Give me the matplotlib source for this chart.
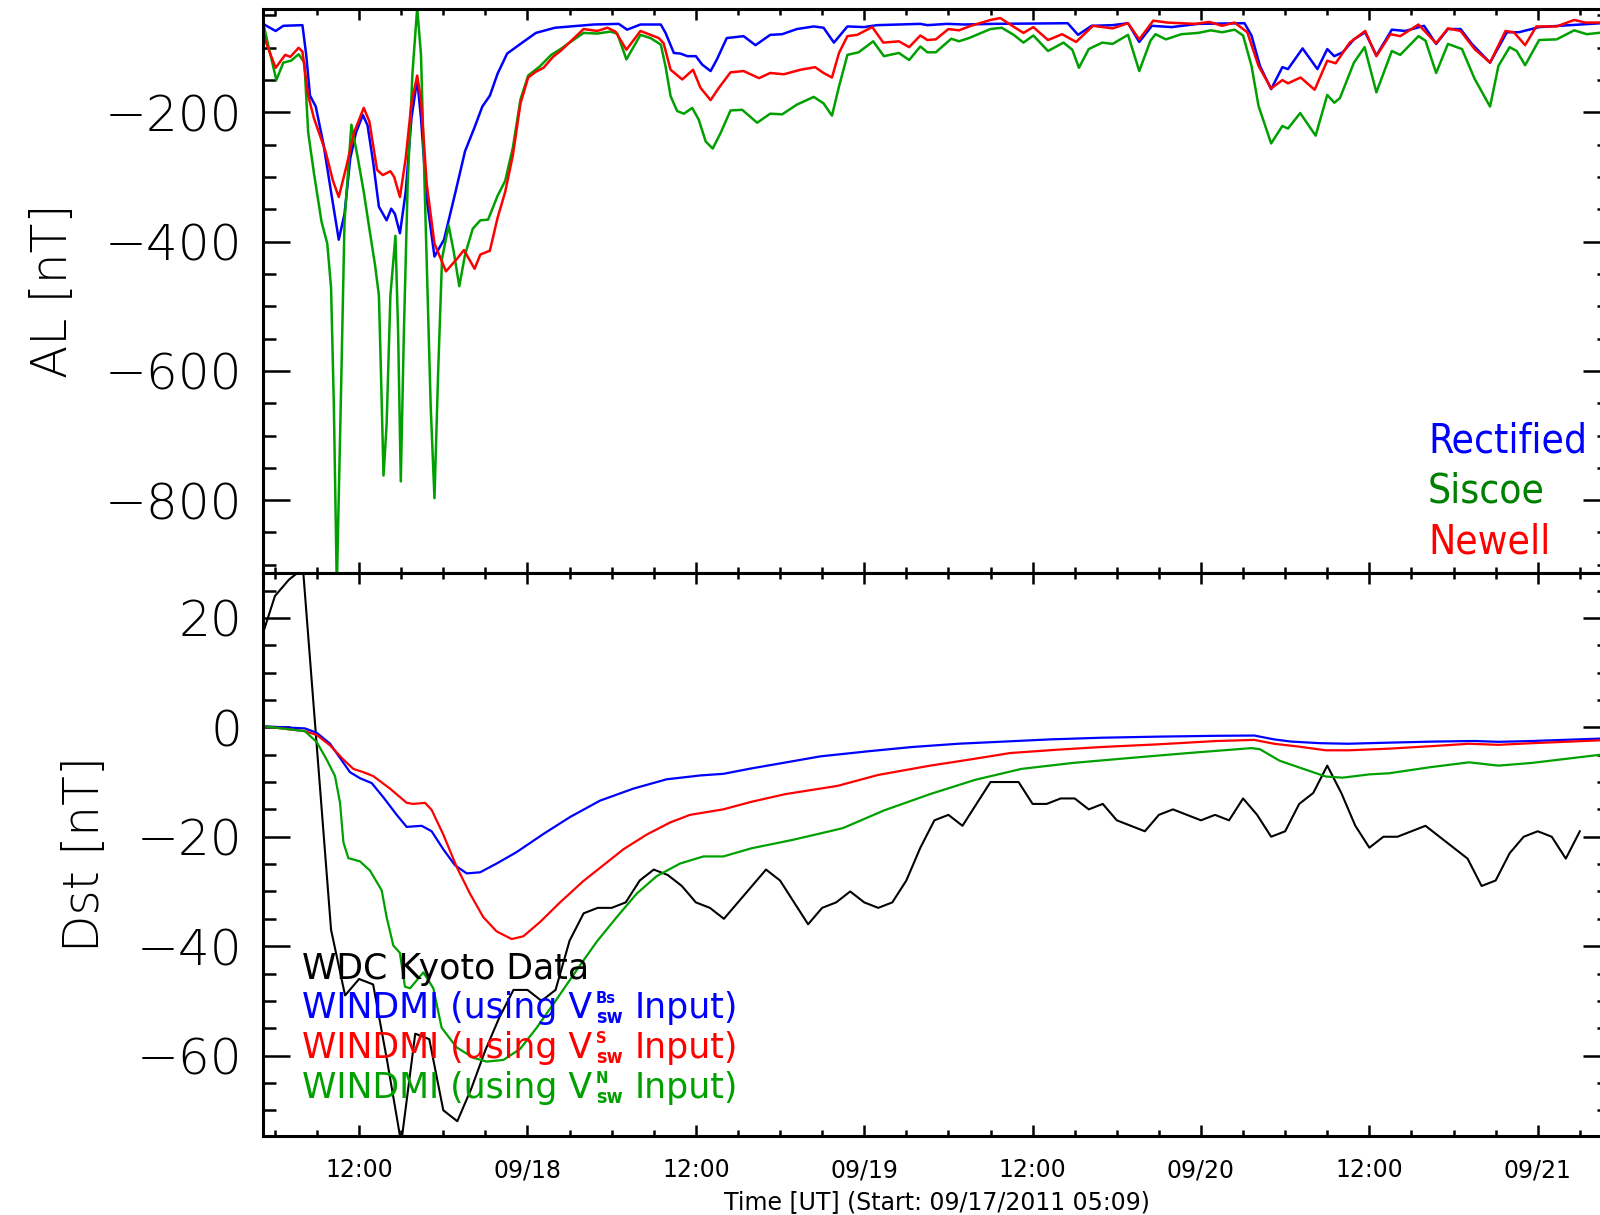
import numpy as np
import matplotlib
matplotlib.use('Agg')
import matplotlib.pyplot as plt
from matplotlib.ticker import MultipleLocator, FixedLocator

plt.rcParams['font.family'] = ['DejaVu Sans']

# time axis: hours since 09/17/2011 00:00 UT, run starts at 05:09
t_start = 5.15
t_end = t_start + 96.0
tick_hours = [12, 24, 36, 48, 60, 72, 84, 96]
tick_labels = ['12:00', '09/18', '12:00', '09/19', '12:00', '09/20', '12:00', '09/21']

#------------------------------ AL index (model) ------------------------------#
al_rect_t = [5.15, 6.05, 6.6, 7.96, 8.23, 8.5, 8.91, 9.46, 10.0, 10.55, 10.96, 11.37, 11.78,
             12.27, 12.6, 13.0, 13.41, 13.96, 14.29, 14.55, 14.91, 15.32, 15.73, 16.14, 16.41,
             16.82, 17.37, 18.05, 18.87, 19.55, 20.23, 20.78, 21.32, 21.87, 22.55, 23.5, 24.6,
             25.96, 28.73, 30.5, 31.1, 32.05, 33.5, 33.84, 34.43, 34.9, 35.4, 36.0, 36.45, 37.05,
             37.5, 38.2, 39.4, 40.25, 41.3, 42.15, 43.2, 44.4, 45.1, 45.84, 46.8, 48.0, 48.9,
             52.0, 52.5, 53.9, 55.1, 57.25, 62.5, 63.24, 64.2, 65.7, 66.8, 67.6, 68.5, 69.9,
             71.8, 75.1, 75.6, 76.2, 77.0, 77.8, 78.2, 79.24, 80.3, 81.0, 81.5, 82.1, 82.9,
             83.7, 84.5, 85.6, 86.55, 87.9, 88.76, 89.6, 90.5, 91.3, 92.6, 93.8, 94.65, 96.1,
             100.5, 101.15]
al_rect = [-63, -74, -66, -65, -111, -174, -191, -249, -323, -397, -357, -271, -231,
           -204, -220, -277, -346, -367, -349, -357, -387, -323, -209, -149, -209,
           -334, -423, -397, -323, -260, -223, -191, -174, -140, -109, -94, -77,
           -69, -64, -63, -72, -64, -64, -77, -108, -109, -113, -113, -126, -136,
           -118, -85, -82, -96, -80, -79, -71, -67, -69, -92, -67, -68, -65,
           -63, -65, -63, -64, -63, -62, -80, -66, -65, -62, -91, -66, -68,
           -63, -62, -81, -128, -164, -130, -133, -101, -133, -102, -113, -107, -87,
           -76, -112, -72, -74, -66, -94, -71, -71, -94, -123, -76, -76, -68,
           -62, -62]

al_newell_t = [5.15, 5.5, 6.05, 6.73, 7.1, 7.69, 7.96, 8.37, 8.78, 9.6, 10.14, 10.55, 11.1,
               11.64, 12.33, 12.73, 13.28, 13.69, 14.23, 14.5, 14.91, 15.32, 15.73, 16.14,
               16.41, 16.82, 17.37, 18.19, 19.0, 19.47, 20.23, 20.64, 21.32, 21.87, 22.41,
               22.96, 23.5, 24.05, 24.6, 25.14, 25.82, 26.35, 28.0, 28.97, 29.7, 30.27, 31.05,
               32.05, 33.36, 33.7, 34.2, 35.03, 35.8, 36.33, 37.05, 37.64, 38.47, 39.4, 40.5,
               41.3, 42.27, 43.46, 44.5, 45.1, 45.7, 46.2, 46.8, 47.5, 48.57, 49.36, 50.47,
               51.2, 52.0, 52.5, 53.1, 54.0, 54.75, 55.6, 57.0, 57.7, 58.4, 59.35, 60.05,
               61.1, 62.1, 63.1, 64.3, 65.7, 66.8, 67.6, 68.6, 69.6, 71.6, 72.6, 73.5, 74.4,
               75.3, 76.1, 77.0, 77.8, 78.2, 79.1, 80.1, 81.0, 81.6, 82.6, 83.7, 84.5, 85.5,
               86.2, 87.5, 88.76, 89.6, 90.5, 91.5, 92.6, 93.7, 94.3, 95.1, 95.9, 97.35, 98.6,
               99.4, 101.15]
al_newell = [-77, -100, -131, -111, -114, -100, -106, -174, -209, -260, -306, -331, -283,
             -231, -193, -214, -289, -297, -291, -300, -331, -271, -186, -143,
             -180, -311, -403, -446, -426, -413, -442, -420, -414, -363, -323,
             -266, -186, -146, -137, -131, -114, -105, -71, -74, -69, -75, -103,
             -74, -85, -93, -134, -149, -134, -162, -181, -162, -138, -136, -147,
             -139, -141, -134, -130, -139, -146, -108, -82, -80, -68, -92, -90,
             -99, -81, -88, -87, -71, -73, -66, -57, -54, -64, -77, -68,
             -88, -79, -91, -66, -70, -62, -87, -58, -61, -63, -60, -66, -61,
             -76, -128, -163, -150, -155, -146, -165, -120, -124, -92, -74, -113, -79,
             -82, -64, -93, -70, -74, -102, -123, -74, -76, -96, -67, -67, -57,
             -61, -61]

al_siscoe_t = [5.15, 5.5, 6.1, 6.6, 7.15, 7.69, 8.1, 8.37, 8.78, 9.32, 9.73, 10.0, 10.2, 10.41,
               10.69, 10.96, 11.45, 11.91, 12.33, 12.73, 13.14, 13.41, 13.55, 13.74, 13.96,
               14.23, 14.59, 14.78, 14.97, 15.19, 15.46, 15.8, 16.14, 16.41, 16.74, 17.1, 17.37,
               17.64, 17.91, 18.38, 18.73, 19.14, 19.55, 20.1, 20.64, 21.19, 21.87, 22.41,
               22.96, 23.5, 24.05, 24.87, 25.69, 26.35, 28.0, 28.97, 29.9, 30.4, 31.05, 32.05,
               32.77, 33.5, 33.84, 34.2, 34.67, 35.15, 35.74, 36.2, 36.7, 37.2, 37.76, 38.47,
               39.3, 40.37, 41.3, 42.15, 43.2, 44.4, 45.1, 45.7, 46.2, 46.8, 47.6, 48.64, 49.4,
               50.47, 51.2, 52.0, 52.5, 53.1, 54.2, 54.75, 55.46, 57.0, 57.8, 58.65, 59.35,
               60.05, 61.1, 62.2, 62.83, 63.3, 64.0, 64.96, 65.7, 66.8, 67.6, 68.4, 68.76,
               69.5, 70.6, 71.8, 72.7, 73.5, 74.4, 75.0, 75.6, 76.1, 77.0, 77.8, 78.2, 79.07,
               80.17, 81.0, 81.5, 81.9, 82.9, 83.66, 84.5, 85.6, 86.2, 87.5, 88.0, 88.76, 89.6,
               90.6, 91.5, 92.6, 93.2, 94.0, 94.5, 95.1, 96.1, 97.35, 98.6, 99.5, 101.15]
al_siscoe = [-61, -94, -150, -123, -120, -110, -123, -231, -294, -369, -403, -471, -654, -935,
             -654, -369, -219, -271, -323, -380, -437, -483, -597, -762, -683,
             -483, -391, -540, -771, -540, -311, -140, -38, -111, -369, -654, -797,
             -597, -426, -375, -414, -469, -420, -380, -367, -366, -329, -306,
             -254, -180, -143, -129, -111, -102, -77, -78, -75, -78, -118, -80,
             -85, -95, -129, -175, -198, -202, -193, -211, -245, -256, -232, -197,
             -196, -216, -202, -203, -188, -176, -186, -205, -160, -111, -107, -90, -113,
             -108, -119, -98, -107, -107, -86, -90, -85, -71, -69, -80, -92,
             -81, -105, -92, -103, -131, -102, -92, -94, -80, -136, -89, -79,
             -87, -79, -77, -73, -76, -72, -81, -128, -190, -248, -221, -225, -201,
             -236, -173, -185, -178, -123, -99, -169, -105, -111, -82, -89, -139, -94,
             -102, -148, -191, -128, -99, -105, -127, -88, -87, -73, -79, -75]

#------------------------------ Dst index ------------------------------#
# WDC Kyoto hourly values
dst_obs_t = list(range(5, 100))
dst_obs = [16, 24, 27, 29, -4, -37, -49, -46, -47, -61, -76, -56, -57, -70, -72, -66,
           -59, -53, -48, -48, -50, -48, -39, -34, -33, -33, -32, -28, -26, -27, -29, -32,
           -33, -35, -32, -29, -26, -28, -32, -36, -33, -32, -30, -32, -33, -32, -28, -22,
           -17, -16, -18, -14, -10, -10, -10, -14, -14, -13, -13, -15, -14, -17, -18, -19,
           -16, -15, -16, -17, -16, -17, -13, -16, -20, -19, -14, -12, -7, -12, -18, -22,
           -20, -20, -19, -18, -20, -22, -24, -29, -28, -23, -20, -19, -20, -24, -19]

dst_bs_t = [5.15, 7.07, 8.14, 8.98, 9.93, 10.64, 11.35, 12.06, 12.9, 13.73, 14.68, 15.39,
            16.46, 17.17, 18.0, 18.83, 19.67, 20.62, 21.8, 23.23, 25.13, 27.03, 29.17, 31.55,
            33.92, 36.3, 37.96, 39.98, 42.0, 44.9, 48.2, 51.4, 54.7, 58.0, 61.3, 64.9, 69.0,
            73.1, 75.8, 77.2, 78.4, 80.5, 82.5, 85.4, 88.7, 91.5, 93.2, 95.6, 101.15]
dst_bs = [0.2, -0.06, -0.2, -1.0, -3.0, -5.6, -8.2, -9.3, -10.2, -12.8, -16.0, -18.2,
          -18.0, -19.0, -22.3, -25.2, -26.7, -26.5, -24.9, -22.8, -19.5, -16.4, -13.4, -11.2,
          -9.5, -8.8, -8.5, -7.5, -6.6, -5.3, -4.4, -3.6, -3.0, -2.6, -2.2, -1.9, -1.7,
          -1.55, -1.5, -2.2, -2.6, -2.9, -3.0, -2.8, -2.6, -2.5, -2.65, -2.5, -2.0]

dst_s_t = [5.15, 8.14, 8.98, 9.93, 10.88, 11.59, 12.3, 13.0, 14.2, 15.39, 15.86, 16.7, 17.17,
           18.0, 18.95, 19.9, 20.85, 21.8, 22.87, 23.7, 24.89, 26.32, 27.98, 29.41, 30.83,
           32.5, 34.16, 35.58, 37.94, 39.98, 42.4, 46.1, 49.0, 52.7, 55.5, 58.4, 61.7, 64.9,
           69.0, 73.1, 75.8, 77.2, 78.9, 80.9, 82.5, 85.4, 88.7, 91.1, 93.2, 95.6, 101.15]
dst_s = [0.2, -0.7, -1.4, -3.3, -5.9, -7.6, -8.2, -8.9, -11.2, -13.8, -14.0, -13.8, -15.1,
         -19.6, -25.5, -30.4, -34.7, -37.3, -38.7, -38.2, -35.6, -32.0, -28.1, -25.2, -22.3,
         -19.6, -17.4, -16.0, -15.0, -13.6, -12.2, -10.7, -8.7, -7.0, -5.9, -4.7, -4.1, -3.6,
         -3.1, -2.5, -2.3, -3.0, -3.5, -4.2, -4.2, -3.9, -3.4, -3.0, -3.2, -2.9, -2.3]

dst_n_t = [5.15, 8.14, 8.98, 9.69, 10.28, 10.64, 10.88, 11.23, 12.06, 12.78, 13.61, 13.96,
           14.44, 14.9, 15.27, 15.63, 16.58, 17.29, 17.88, 18.95, 20.14, 21.09, 22.28, 23.47,
           24.66, 26.08, 27.5, 28.93, 30.36, 31.78, 33.21, 34.87, 36.54, 37.96, 39.98, 42.85,
           45.7, 46.5, 49.4, 52.7, 55.9, 59.2, 62.9, 67.4, 71.1, 75.6, 76.2, 77.6, 79.3, 80.9,
           82.1, 84.0, 85.4, 88.3, 91.1, 93.2, 95.6, 101.15]
dst_n = [0.2, -0.7, -2.7, -5.9, -8.9, -13.8, -21.0, -23.9, -24.5, -26.2, -29.8, -34.7,
         -39.9, -41.2, -47.4, -47.7, -44.8, -47.7, -54.9, -58.5, -60.4, -61.1, -60.8, -58.8,
         -54.9, -49.7, -44.4, -39.2, -34.7, -30.4, -27.2, -24.9, -23.6, -23.6, -22.1, -20.6,
         -18.9, -18.4, -15.2, -12.2, -9.6, -7.6, -6.5, -5.5, -4.7, -3.8, -4.0, -6.1, -7.6, -9.0,
         -9.2, -8.6, -8.4, -7.3, -6.4, -7.0, -6.5, -4.8]

input_names = ['Bs', 'S', 'N']

blue = '#0000ff'
red = '#ff0000'
green = '#00a000'
dark_green = '#008000'
thin_font = dict(family=['DejaVu Sans'], weight='light')

fig = plt.figure(figsize=(16, 12.15), dpi=100)
left = 263 / 1600
width = 1347 / 1600
ax1 = fig.add_axes([left, 1 - 572.5 / 1215, width, 563.5 / 1215])
ax2 = fig.add_axes([left, 1 - 1136 / 1215, width, 563.5 / 1215], sharex=ax1)

#---------------------------------- AL panel ----------------------------------#
ax1.plot(al_rect_t, al_rect, color=blue, lw=1.8)
ax1.plot(al_siscoe_t, al_siscoe, color=green, lw=1.8)
ax1.plot(al_newell_t, al_newell, color=red, lw=1.8)
ax1.set_ylim(-912, -40)
ax1.yaxis.set_major_locator(FixedLocator([-200, -400, -600, -800]))
ax1.yaxis.set_minor_locator(MultipleLocator(50))
ax1.set_ylabel('AL [nT]', fontsize=35, labelpad=20, **thin_font)

for name, col, yy in zip(['Rectified', 'Siscoe', 'Newell'], [blue, dark_green, red],
                         [0.2121, 0.1251, 0.0346]):
    ax1.text(0.8649, yy, name, color=col, fontsize=29.2, transform=ax1.transAxes,
             ha='left', va='baseline', fontstretch='condensed')

#---------------------------------- Dst panel ----------------------------------#
ax2.plot(dst_obs_t, dst_obs, color='black', lw=1.5)
ax2.plot(dst_bs_t, dst_bs, color=blue, lw=1.6)
ax2.plot(dst_s_t, dst_s, color=red, lw=1.6)
ax2.plot(dst_n_t, dst_n, color=green, lw=1.6)
ax2.set_ylim(-74.7, 28.3)
ax2.yaxis.set_major_locator(FixedLocator([20, 0, -20, -40, -60]))
ax2.yaxis.set_minor_locator(MultipleLocator(5))
ax2.set_ylabel('Dst [nT]', fontsize=35, labelpad=20, **thin_font)

# legend text, V with stacked super/subscript built from separate pieces
leg_x = 0.029
leg_size = 25
ax2.text(leg_x, 0.2786, 'WDC Kyoto Data', color='black', fontsize=leg_size,
         transform=ax2.transAxes, ha='left', va='baseline')
for name, col, yy in zip(input_names, [blue, red, green], [0.2094, 0.1384, 0.0674]):
    head = ax2.text(leg_x, yy, 'WINDMI (using V', color=col, fontsize=leg_size,
                    transform=ax2.transAxes, ha='left', va='baseline')
    ax2.annotate(name, xy=(1, yy), xycoords=(head, 'axes fraction'), xytext=(2.5, 10.8),
                 textcoords='offset points', color=col, fontsize=10.6, fontweight='bold',
                 ha='left', va='baseline')
    sub = ax2.annotate('sw', xy=(1, yy), xycoords=(head, 'axes fraction'), xytext=(2.5, -3.6),
                       textcoords='offset points', color=col, fontsize=14, fontweight='bold',
                       fontstretch='condensed', ha='left', va='baseline')
    ax2.annotate('Input)', xy=(1, yy), xycoords=(sub, 'axes fraction'), xytext=(8.5, 0),
                 textcoords='offset points', color=col, fontsize=leg_size,
                 ha='left', va='baseline')

ax2.set_xlim(t_start, t_end)
ax2.xaxis.set_major_locator(FixedLocator(tick_hours))
ax2.xaxis.set_minor_locator(MultipleLocator(3))
ax2.set_xticklabels(tick_labels)
ax2.set_xlabel('Time [UT] (Start: 09/17/2011 05:09)', fontsize=17, labelpad=6)

for ax in (ax1, ax2):
    for s in ax.spines.values():
        s.set_linewidth(2.2)
    ax.tick_params(which='both', direction='in', top=True, right=True, width=1.8)
    ax.tick_params(axis='y', which='major', length=19.5, pad=15, labelsize=36)
    ax.tick_params(axis='y', which='minor', length=9.5)
    ax.tick_params(axis='x', which='major', length=8, labelsize=17, pad=16)
    ax.tick_params(axis='x', which='minor', length=4.3)
    for lab in ax.get_yticklabels():
        lab.set_fontweight('light')

ax1.tick_params(axis='x', which='both', labelbottom=False)

fig.savefig('out.png', dpi=100)
